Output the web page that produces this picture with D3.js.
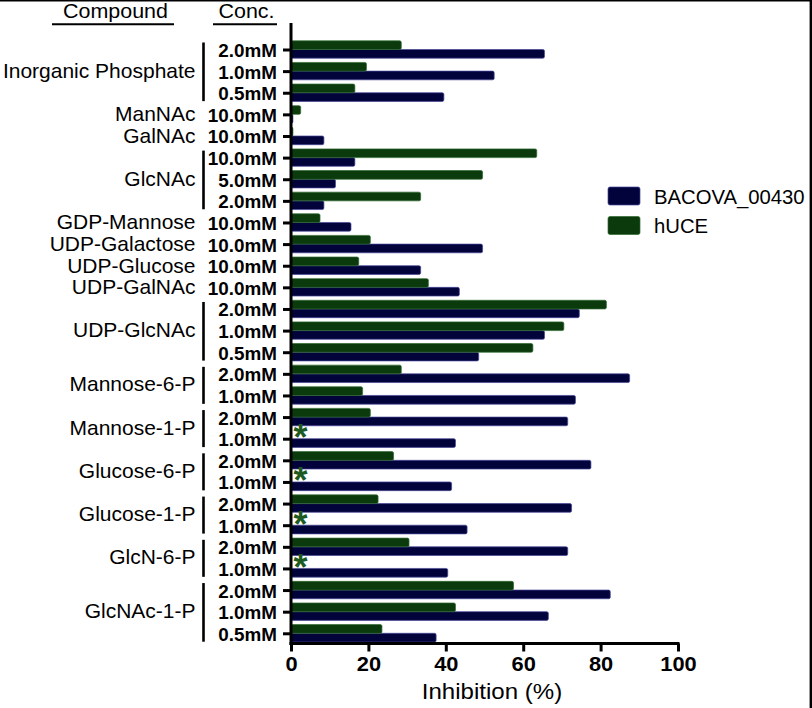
<!DOCTYPE html>
<html><head><meta charset="utf-8">
<script src="https://cdn.jsdelivr.net/npm/d3@7"></script>
<style>html,body{margin:0;padding:0;background:#fff;}svg{display:block;}</style>
</head><body>
<script>
// ---- data ----
const rowCompound = ["Inorganic Phosphate","Inorganic Phosphate","Inorganic Phosphate","ManNAc","GalNAc",
  "GlcNAc","GlcNAc","GlcNAc","GDP-Mannose","UDP-Galactose","UDP-Glucose","UDP-GalNAc",
  "UDP-GlcNAc","UDP-GlcNAc","UDP-GlcNAc","Mannose-6-P","Mannose-6-P","Mannose-1-P","Mannose-1-P",
  "Glucose-6-P","Glucose-6-P","Glucose-1-P","Glucose-1-P","GlcN-6-P","GlcN-6-P",
  "GlcNAc-1-P","GlcNAc-1-P","GlcNAc-1-P"];
const concLabels = ["2.0mM","1.0mM","0.5mM","10.0mM","10.0mM","10.0mM","5.0mM","2.0mM","10.0mM","10.0mM","10.0mM","10.0mM",
  "2.0mM","1.0mM","0.5mM","2.0mM","1.0mM","2.0mM","1.0mM","2.0mM","1.0mM","2.0mM","1.0mM","2.0mM","1.0mM",
  "2.0mM","1.0mM","0.5mM"];
const bacova = [65.5,52.5,39.5,0.5,8.5,16.5,11.5,8.5,15.5,49.5,33.5,43.5,74.5,65.5,48.5,87.5,73.5,71.5,42.5,77.5,41.5,72.5,45.5,71.5,40.5,82.5,66.5,37.5];
const hUCE   = [28.5,19.5,16.5,2.5,0.5,63.5,49.5,33.5,7.5,20.5,17.5,35.5,81.5,70.5,62.5,28.5,18.5,20.5,null,26.5,null,22.5,null,30.5,null,57.5,42.5,23.5];
const seriesNames = ["BACOVA_00430","hUCE"];
const seriesColors = ["#03033b","#0b3a0d"];
const seriesStroke = ["#45459a","#2f6a30"];
const xTicks = [0,20,40,60,80,100];
const xTitle = "Inhibition (%)";
const headers = ["Compound","Conc."];

// ---- layout ----
const W = 812, H = 708;
const FONT = "'Liberation Sans', Arial, Helvetica, sans-serif";
const svg = d3.select("body").append("svg").attr("width", W).attr("height", H);
svg.append("rect").attr("width", W).attr("height", H).attr("fill", "#fff");

const rows = d3.range(rowCompound.length);
const x = d3.scaleLinear().domain([0,100]).range([291,678]);
const y = d3.scalePoint().domain(rows).range([49.5,633.3]);
const sub = d3.scaleBand().domain(["hUCE","BACOVA_00430"]).range([-8.7,8.7]).padding(0);

function stext(g, str, px, py, opts) {
  return g.append("text")
    .attr("transform", `translate(${px},${py}) scale(${opts.sx||1},1)`)
    .attr("font-family", FONT)
    .attr("font-size", opts.size)
    .attr("font-weight", opts.weight || "normal")
    .attr("text-anchor", opts.anchor || "start")
    .attr("fill", opts.fill || "#000")
    .text(str);
}

// bars
const gBars = svg.append("g");
rows.forEach(i => {
  const vals = [["BACOVA_00430", bacova[i], 0], ["hUCE", hUCE[i], 1]];
  vals.forEach(([name, v, k]) => {
    if (v === null) return;
    gBars.append("rect")
      .attr("x", x(0))
      .attr("y", y(i) + sub(name))
      .attr("width", Math.max(0.5, x(v) - x(0)))
      .attr("height", sub.bandwidth())
      .attr("rx", 1.6)
      .attr("fill", seriesColors[k])
      .attr("stroke", seriesStroke[k])
      .attr("stroke-width", 0.7);
  });
  if (hUCE[i] === null) {
    stext(svg, "*", x(0) + 9.5, y(i) + 11.5, {size: 36, weight: "bold", anchor: "middle", fill: "#1d5a1f"});
  }
});

// y axis
const yAxis = d3.axisLeft(y).tickSizeInner(8).tickSizeOuter(0).tickFormat(i => concLabels[i]);
const gy = svg.append("g").attr("transform", `translate(${x(0)},0)`).call(yAxis);
gy.select(".domain").remove();
gy.selectAll(".tick line").attr("stroke", "#000").attr("stroke-width", 3);
gy.selectAll(".tick text").remove();
gy.selectAll(".tick").each(function(i) {
  stext(d3.select(this), concLabels[i], -14, 7, {size: 18.5, weight: "bold", anchor: "end", sx: 1.02});
});
svg.append("line").attr("x1", x(0)).attr("x2", x(0)).attr("y1", 23).attr("y2", 645)
  .attr("stroke", "#000").attr("stroke-width", 3);

// x axis
const xAxis = d3.axisBottom(x).tickValues(xTicks).tickSizeInner(8).tickSizeOuter(0);
const gx = svg.append("g").attr("transform", "translate(0,643.5)").call(xAxis);
gx.select(".domain").attr("stroke", "#000").attr("stroke-width", 3).attr("d", `M${x(0)-1.5},0H${x(100)+1.5}`);
gx.selectAll(".tick line").attr("stroke", "#000").attr("stroke-width", 3);
gx.selectAll(".tick text").remove();
gx.selectAll(".tick").each(function(v) {
  stext(d3.select(this), String(v), 0, 27, {size: 19.5, weight: "bold", anchor: "middle", sx: 1.12});
});
stext(svg, xTitle, 492, 699, {size: 21.5, anchor: "middle", sx: 1.12});

// compound labels + brackets
const groups = [];
rowCompound.forEach((c, i) => {
  const last = groups[groups.length - 1];
  if (last && last.name === c) last.rows.push(i); else groups.push({name: c, rows: [i]});
});
groups.forEach(g => {
  const yc = d3.mean(g.rows, r => y(r));
  stext(svg, g.name, 195.5, yc + 6.8, {size: 20, anchor: "end", sx: 1.05});
  if (g.rows.length > 1) {
    svg.append("line").attr("x1", 203.5).attr("x2", 203.5)
      .attr("y1", y(g.rows[0]) - 7).attr("y2", y(g.rows[g.rows.length - 1]) + 8.4)
      .attr("stroke", "#000").attr("stroke-width", 2.6);
  }
});

// headers
stext(svg, headers[0], 115.5, 17.5, {size: 19.5, anchor: "middle", sx: 1.1});
svg.append("line").attr("x1", 52).attr("x2", 174).attr("y1", 24.3).attr("y2", 24.3).attr("stroke", "#000").attr("stroke-width", 2);
stext(svg, headers[1], 246.5, 17.5, {size: 19.5, anchor: "middle", sx: 1.1});
svg.append("line").attr("x1", 213).attr("x2", 277).attr("y1", 24.3).attr("y2", 24.3).attr("stroke", "#000").attr("stroke-width", 2);

// legend
const lg = svg.append("g");
seriesNames.forEach((n, k) => {
  const ly = 187 + k * 29.5;
  lg.append("rect").attr("x", 608).attr("y", ly).attr("width", 32).attr("height", 18).attr("rx", 2)
    .attr("fill", seriesColors[k]).attr("stroke", seriesStroke[k]).attr("stroke-width", 0.7);
  stext(lg, n, 654, ly + 16.5, {size: 20.5, anchor: "start", sx: 0.99});
});

// frame lines (top and right)
svg.append("line").attr("x1", 0).attr("x2", W).attr("y1", 0.8).attr("y2", 0.8).attr("stroke", "#000").attr("stroke-width", 1.6);
svg.append("line").attr("x1", 810.8).attr("x2", 810.8).attr("y1", 0).attr("y2", H).attr("stroke", "#000").attr("stroke-width", 2.4);
</script>
</body></html>
